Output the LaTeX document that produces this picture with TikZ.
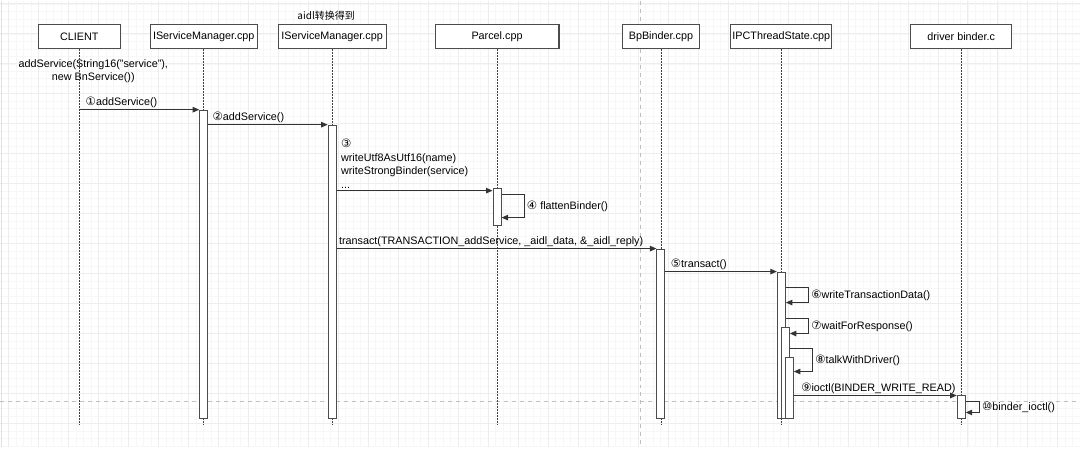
\documentclass[tikz,border=0pt]{standalone}
\usepackage{fontspec}
\setmainfont{Liberation Sans}
\newfontfamily\cjk{Noto Sans CJK SC}
\newfontfamily\numfont{DejaVu Sans}
\usetikzlibrary{positioning, arrows.meta}
\newcommand{\cnum}[1]{{\numfont\fontsize{11.5}{12}\selectfont #1}}

\begin{document}
\begin{tikzpicture}[
  x=1pt, y=-1pt,
  >={Triangle[length=6.5pt, width=5.5pt]},
  font=\fontsize{10.8}{13.5}\selectfont,
  obj/.style={draw=black!70, line width=1.1pt, fill=white, minimum height=24pt, inner sep=1pt},
  life/.style={draw=black!75, dash pattern=on 1.5pt off 1.5pt, line width=0.8pt},
  act/.style={draw=black!70, line width=1pt, fill=white, minimum width=8pt, inner sep=0pt, anchor=north},
  msg/.style={->, draw=black!80, line width=0.9pt},
  guide/.style={draw=black!25, dash pattern=on 4pt off 4pt, line width=0.7pt},
  lbl/.style={inner sep=1pt, anchor=south west},
  gridminor/.style={draw=black!3, line width=0.4pt},
  gridmajor/.style={draw=black!7, line width=0.5pt}
]
% canvas and grid
\fill[white] (0,0) rectangle (1080,447);
\foreach \gx in {0.5,8,...,1080} \draw[gridminor] (\gx,0) -- (\gx,447);
\foreach \gy in {3,10.5,...,447} \draw[gridminor] (0,\gy) -- (1080,\gy);
\foreach \gx in {8,38,...,1080} \draw[gridmajor] (\gx,0) -- (\gx,447);
\foreach \gy in {3,33,...,447} \draw[gridmajor] (0,\gy) -- (1080,\gy);
\draw[black!12, line width=1.5pt] (1,0) -- (1,447);
\draw[guide] (640,0) -- (640,447);
\draw[guide] (0,401) -- (1080,401);

% participants
\node[obj, minimum width=82pt] (client) at (79,36) {CLIENT};
\node[obj, minimum width=107pt] (ism) at (203.5,36) {IServiceManager.cpp};
\node[obj, minimum width=108pt] (aidl) at (332,36) {IServiceManager.cpp};
\node[obj, minimum width=124pt] (parcel) at (497,36) {Parcel.cpp};
\node[obj, minimum width=77pt] (bp) at (661,36) {BpBinder.cpp};
\node[obj, minimum width=101pt] (ipc) at (781.5,36) {IPCThreadState.cpp};
\node[obj, minimum width=101pt] (drv) at (961.5,36) {driver binder.c};

\node[font=\cjk\fontsize{10}{12}\selectfont, above=0pt of aidl, xshift=-6pt] (aidlnote) {aidl转换得到};
\node[align=center] (clnote) at (93,70.5) {addService(String16("service"),\\new BnService())};

% lifelines
\foreach \o in {client,ism,aidl,parcel,bp,ipc,drv}
  \draw[life] (\o.south) -- (\o.south |- 0,424);

% activations
\node[act, minimum height=309pt] (ismA) at (ism.south |- 0,109) {};
\node[act, minimum height=294pt] (aidlA) at (aidl.south |- 0,124) {};
\node[act, minimum height=37pt] (parcelA) at (parcel.south |- 0,187) {};
\node[act, minimum height=170pt] (bpA) at (bp.south |- 0,248) {};
\node[act, minimum height=147pt] (ipcA) at (ipc.south |- 0,271) {};
\node[act, minimum height=92pt] (ipcB) at ([xshift=4pt]ipc.south |- 0,326) {};
\node[act, minimum height=62pt] (ipcC) at ([xshift=8pt]ipc.south |- 0,356) {};
\node[act, minimum height=23pt] (drvA) at (drv.south |- 0,395) {};

% messages
\draw[msg] (client.south |- ismA.north) -- node[lbl, pos=0, xshift=5pt] {\cnum{①}addService()} (ismA.north west);
\draw[msg] (ismA.east |- aidlA.north) -- node[lbl, pos=0, xshift=3pt] {\cnum{②}addService()} (aidlA.north west);

\coordinate (wr) at ([yshift=-3pt]parcelA.north west);
\draw[msg] (aidlA.east |- wr) -- node[lbl, pos=0, xshift=3pt, yshift=1pt, align=left] {\cnum{③}\\writeUtf8AsUtf16(name)\\writeStrongBinder(service)\\...} (wr);
\draw[msg] ([yshift=-7pt]parcelA.north east) -- ++(23,0)
  |- node[pos=0.25, right, inner sep=2pt] {\cnum{④} flattenBinder()} ([yshift=-30pt]parcelA.north east);

\draw[msg] (aidlA.east |- bpA.north) -- node[lbl, pos=0, xshift=1pt] {transact(TRANSACTION\_addService, \_aidl\_data, \&\_aidl\_reply)} (bpA.north west);
\draw[msg] (bpA.east |- ipcA.north) -- node[lbl, pos=0, xshift=4pt] {\cnum{⑤}transact()} (ipcA.north west);

\draw[msg] ([yshift=-16pt]ipcA.north east) -- ++(23,0)
  |- node[pos=0.25, right, inner sep=2pt] {\cnum{⑥}writeTransactionData()} ([yshift=-31pt]ipcA.north east);
\draw[msg] ([yshift=-47pt]ipcA.north east) -- ++(23,0)
  |- node[pos=0.25, right, inner sep=2pt] {\cnum{⑦}waitForResponse()} ([yshift=-7pt]ipcB.north east);
\draw[msg] ([yshift=-22pt]ipcB.north east) -- ++(23,0)
  |- node[pos=0.25, right, inner sep=2pt] {\cnum{⑧}talkWithDriver()} ([yshift=-15pt]ipcC.north east);

\draw[msg] (ipcC.east |- drvA.north) -- node[lbl, pos=0, xshift=6pt] {\cnum{⑨}ioctl(BINDER\_WRITE\_READ)} (drvA.north west);
\draw[msg] ([yshift=-6pt]drvA.north east) -- ++(14,0)
  |- node[pos=0.25, right, inner sep=2pt] {\cnum{⑩}binder\_ioctl()} ([yshift=-17pt]drvA.north east);
\end{tikzpicture}
\end{document}
